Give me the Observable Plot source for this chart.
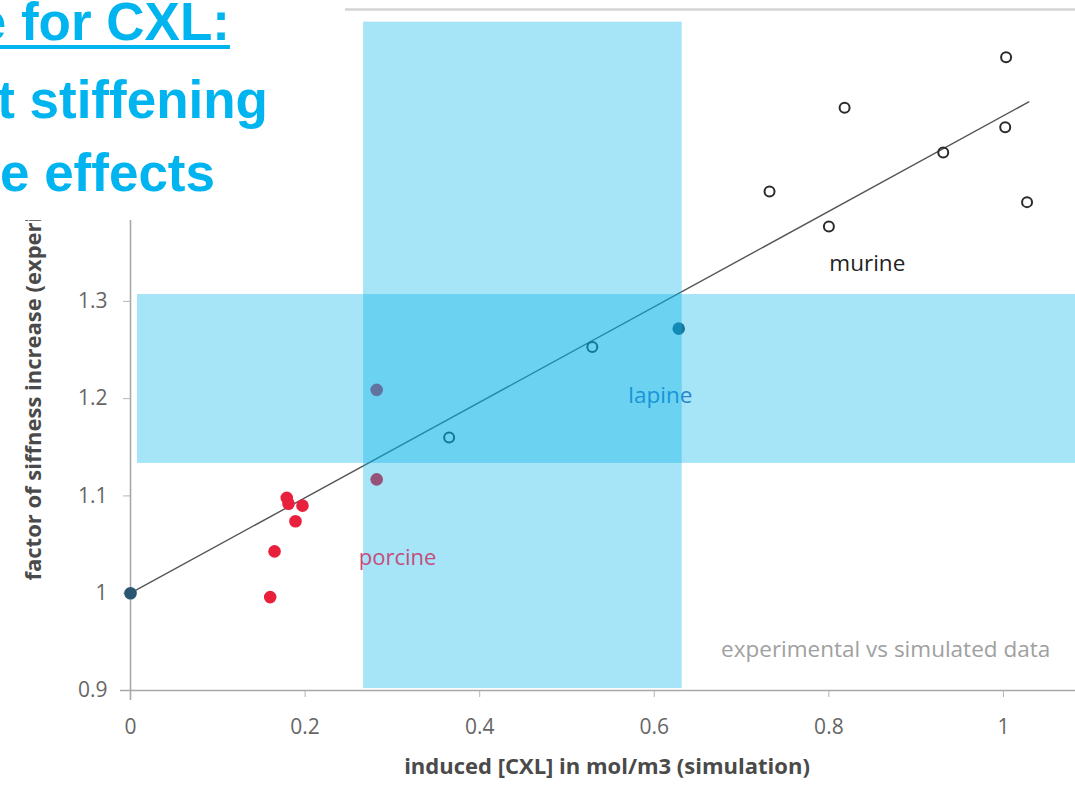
<!DOCTYPE html>
<html>
<head>
<meta charset="utf-8">
<script src="https://cdn.jsdelivr.net/npm/d3@7"></script>
<script src="https://cdn.jsdelivr.net/npm/@observablehq/plot@0.6"></script>
<style>
  html, body { margin: 0; padding: 0; background: #fff; overflow: hidden; }
  #stage { position: relative; width: 1075px; height: 788px; overflow: hidden; background: #fff; }
  #chart { position: absolute; left: 0; top: 0; }
  #heading {
    position: absolute; left: 0; top: 0; width: 345px; height: 220px;
    background: #fff; overflow: hidden; z-index: 2;
    font-family: "Liberation Sans", Arial, sans-serif; font-weight: bold;
    font-size: 53px; color: #00b4f0;
  }
  #heading div { position: absolute; white-space: nowrap; line-height: 53px; }
</style>
</head>
<body>
<div id="stage">
  <div id="chart"></div>
  <div id="heading"></div>
</div>
<script>
// Slide heading lines (right edges and tops in px inside the heading box)
const headingLines = ["e for CXL:", "t stiffening", "e effects"];
const headingRight = [115, 77, 130];
const headingTop = [-5, 73, 146];

// Axis ticks
const xTicks = [0, 0.2, 0.4, 0.6, 0.8, 1];
const yTicks = [0.9, 1, 1.1, 1.2, 1.3];

// Porcine samples (filled red)
const porcineX = [0.179, 0.181, 0.197, 0.189, 0.165, 0.160, 0.282, 0.282];
const porcineY = [1.098, 1.092, 1.090, 1.074, 1.043, 0.996, 1.209, 1.117];

// Lapine samples (filled dark blue)
const lapineX = [0, 0.628];
const lapineY = [1, 1.272];

// Murine samples (open circles)
const murineX = [0.365, 0.529, 0.732, 0.800, 0.818, 0.931, 1.002, 1.003, 1.027];
const murineY = [1.160, 1.253, 1.413, 1.377, 1.499, 1.453, 1.479, 1.551, 1.402];

// Linear trend, end points
const trendX = [0, 1.029];
const trendY = [1, 1.505];

// Highlight bands over the chart
const bandX1 = [0.267, 0.008];
const bandX2 = [0.632, 1.1];
const bandY1 = [0.902, 1.1334];
const bandY2 = [1.587, 1.307];

// Group labels drawn beneath the bands
const labelText = ["murine", "lapine", "experimental vs simulated data"];
const labelX = [0.844, 0.607, 0.865];
const labelY = [1.339, 1.203, 0.942];
const labelColor = ["#222222", "#3c6ebe", "#a0a0a0"];

// Porcine label, drawn on top
const porcineLabel = ["porcine"];
const porcineLabelX = [0.306];
const porcineLabelY = [1.036];

const xTitle = "induced [CXL] in mol/m3 (simulation)";
const yTitle = "factor of siffness increase (experimental)";

const heading = document.getElementById("heading");
headingLines.forEach((t, i) => {
  const d = document.createElement("div");
  d.textContent = t;
  d.style.right = headingRight[i] + "px";
  d.style.top = headingTop[i] + "px";
  if (i === 0) {
    d.style.textDecoration = "underline";
    d.style.textDecorationThickness = "4px";
    d.style.textUnderlineOffset = "5px";
  }
  heading.appendChild(d);
});

const porcine = porcineX.map((x, i) => ({x, y: porcineY[i]}));
const lapine = lapineX.map((x, i) => ({x, y: lapineY[i]}));
const murine = murineX.map((x, i) => ({x, y: murineY[i]}));
const trend = trendX.map((x, i) => ({x, y: trendY[i]}));
const bands = bandX1.map((x1, i) => ({x1, x2: bandX2[i], y1: bandY1[i], y2: bandY2[i]}));
const labels = labelText.map((text, i) => ({text, x: labelX[i], y: labelY[i], color: labelColor[i]}));
const porcineLabels = porcineLabel.map((text, i) => ({text, x: porcineLabelX[i], y: porcineLabelY[i]}));

const fmt = d3.format("~g");
const font = "'Open Sans', 'Noto Sans', sans-serif";

const chart = Plot.plot({
  width: 1075,
  height: 788,
  marginLeft: 130,
  marginRight: 0,
  marginTop: 9,
  marginBottom: 98,
  style: {fontFamily: font, background: "transparent", overflow: "visible"},
  x: {domain: [0, 1.0825]},
  y: {domain: [0.9, 1.6]},
  marks: [
    Plot.ruleY([1.6], {stroke: "#d4d4d4", strokeWidth: 2.5}),
    Plot.axisX({ticks: xTicks, tickFormat: fmt, tickSize: 7, tickPadding: 22,
      stroke: "#b5b5b5", fill: "#666", fontSize: 21, label: null}),
    Plot.axisY({ticks: yTicks, tickFormat: fmt, tickSize: 7, tickPadding: 16,
      stroke: "#b5b5b5", fill: "#666", fontSize: 21, label: null}),
    Plot.ruleX([0], {stroke: "#a8a8a8", strokeWidth: 1.6, insetBottom: -10}),
    Plot.ruleY([0.9], {stroke: "#a8a8a8", strokeWidth: 1.6, insetLeft: -10}),
    Plot.line(trend, {x: "x", y: "y", stroke: "#555", strokeWidth: 1.4}),
    Plot.dot(porcine, {x: "x", y: "y", r: 6.3, fill: "#e8203c"}),
    Plot.dot(lapine, {x: "x", y: "y", r: 6.3, fill: "#2a5672"}),
    Plot.dot(murine, {x: "x", y: "y", r: 5, stroke: "#2a2a2a", strokeWidth: 2, fill: "none"}),
    Plot.text(labels, {x: "x", y: "y", text: "text", fill: "color", fontSize: 22.5}),
    Plot.text([xTitle], {frameAnchor: "bottom", dy: 83, dx: 4, fontSize: 22, fontWeight: "bold", fill: "#4a4a4a"}),
    Plot.text([yTitle], {frameAnchor: "bottom-left", dx: -90, dy: -110, rotate: -90, textAnchor: "start",
      fontSize: 22, fontWeight: "bold", fill: "#4a4a4a"}),
    Plot.rect(bands, {x1: "x1", x2: "x2", y1: "y1", y2: "y2", fill: "rgb(0,178,232)", fillOpacity: 0.35}),
    Plot.text(porcineLabels, {x: "x", y: "y", text: "text", fill: "#c44d7c", fontSize: 22})
  ]
});

document.getElementById("chart").appendChild(chart);
</script>
</body>
</html>
